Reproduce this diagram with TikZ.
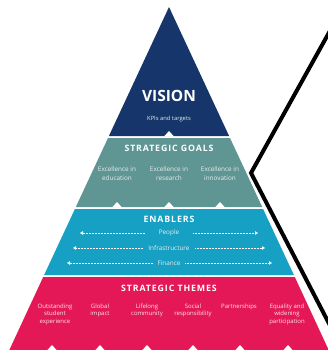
\documentclass[tikz,border=0pt]{standalone}
\usepackage{fontspec}
\setmainfont{Open Sans}
\usetikzlibrary{arrows.meta}
\definecolor{visc}{RGB}{22,54,107}
\definecolor{goalc}{RGB}{95,150,148}
\definecolor{enac}{RGB}{22,160,196}
\definecolor{themc}{RGB}{228,24,86}
\tikzset{
  band/.style={draw=none},
  notch/.style={fill=white,draw=none},
  title/.style={text=white,inner sep=0pt,font=\fontsize{8.8}{9}\selectfont\bfseries\addfontfeature{LetterSpace=10}},
  small/.style={text=white!92!black,inner sep=0pt,align=center,font=\fontsize{6.4}{8.4}\selectfont},
  theme/.style={small,anchor=north,text=white!88!themc,font=\fontsize{6}{7.6}\selectfont},
  enab/.style={small,minimum height=4pt},
  darr/.style={white,densely dotted,line width=0.5pt,-{Triangle[length=3pt,width=3.4pt]}},
  frame/.style={black,line width=4pt,line join=miter}
}
\begin{document}
\begin{tikzpicture}[x=1pt,y=-1pt]
\useasboundingbox (0,0) rectangle (328,350);
\clip (0,0) rectangle (328,350);
% bands
\fill[band,visc] (169,7) -- (229.1,136) -- (108.9,136) -- cycle;
\fill[band,goalc] (108,138) -- (230,138) -- (262.2,207) -- (75.8,207) -- cycle;
\fill[band,enac] (74.9,209) -- (263.1,209) -- (293.9,275) -- (44.1,275) -- cycle;
\fill[band,themc] (43.2,277) -- (294.8,277) -- (331,355) -- (7,355) -- cycle;
% notches
\fill[notch] (164,136.5) -- (169,131) -- (174,136.5) -- cycle;
\foreach \x in {117,169,220}
  \fill[notch] (\x-5,207.5) -- (\x,202) -- (\x+5,207.5) -- cycle;
\foreach \x in {52,100,147,193,240,288}
  \fill[notch] (\x-5,350.5) -- (\x,345) -- (\x+5,350.5) -- cycle;
% vision
\node[text=white,inner sep=0pt,font=\fontsize{15.5}{16}\selectfont\bfseries] (vision) at (169,96) {VISION};
\node[small,font=\fontsize{5.8}{7}\selectfont] (kpi) at (169,119) {KPIs and targets};
% goals
\node[title] (goals) at (169,148) {STRATEGIC GOALS};
\node[small] (g1) at (117,173.5) {Excellence in\\education};
\node[small] (g2) at (169,173.5) {Excellence in\\research};
\node[small] (g3) at (220,173.5) {Excellence in\\innovation};
% enablers
\node[title] (enablers) at (169,219) {ENABLERS};
\node[enab,minimum width=48pt] (people) at (169,233) {People};
\node[enab,minimum width=52pt] (infra) at (169,248) {Infrastructure};
\node[enab,minimum width=32pt] (finance) at (169,263) {Finance};
\coordinate (pl) at (80,233);  \coordinate (pr) at (258,233);
\coordinate (il) at (73,248);  \coordinate (ir) at (265,248);
\coordinate (fl) at (67,263);  \coordinate (fr) at (272,263);
\draw[darr] (people.west) -- (pl);
\draw[darr] (people.east) -- (pr);
\draw[darr] (infra.west) -- (il);
\draw[darr] (infra.east) -- (ir);
\draw[darr] (finance.west) -- (fl);
\draw[darr] (finance.east) -- (fr);
% themes
\node[title] (themes) at (169,288) {STRATEGIC THEMES};
\node[theme] (t1) at (55,303.5) {Outstanding\\student\\experience};
\node[theme] (t2) at (100,303.5) {Global\\impact};
\node[theme] (t3) at (147,303.5) {Lifelong\\community};
\node[theme] (t4) at (193,303.5) {Social\\responsibility};
\node[theme] (t5) at (239,303.5) {Partnerships};
\node[theme] (t6) at (287,303.5) {Equality and\\widening\\participation};
% black frame
\coordinate (fa) at (336,20);
\coordinate (fb) at (251,173);
\coordinate (fc) at (336,337);
\draw[frame] (fa) -- (fb) -- (fc);
\end{tikzpicture}
\end{document}
